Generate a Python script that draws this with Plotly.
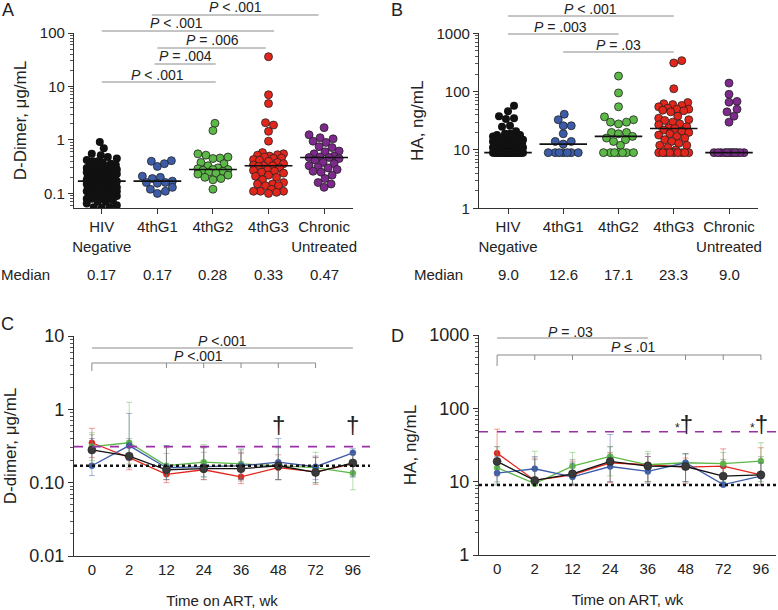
import math

import plotly.graph_objects as go

W, H = 778, 610
FONT = "Liberation Sans, Arial, sans-serif"

groups = ["HIV<br>Negative", "4thG1", "4thG2", "4thG3", "Chronic<br>Untreated"]
group_colors = ["#111111", "#3d5ca8", "#5cb847", "#e3261c", "#7d2a8c"]

# panel A: D-dimer, ug/mL
ddimer_hivneg = [
    0.92, 0.70, 0.55, 0.52, 0.48, 0.45, 0.42, 0.40, 0.40, 0.38,
    0.36, 0.35, 0.34, 0.33, 0.32, 0.31, 0.30, 0.30, 0.29, 0.28,
    0.27, 0.27, 0.26, 0.25, 0.25, 0.24, 0.24, 0.23, 0.23, 0.22,
    0.22, 0.21, 0.21, 0.20, 0.20, 0.20, 0.19, 0.19, 0.19, 0.18,
    0.18, 0.18, 0.18, 0.17, 0.17, 0.17, 0.17, 0.17, 0.16, 0.16,
    0.16, 0.16, 0.15, 0.15, 0.15, 0.15, 0.14, 0.14, 0.14, 0.14,
    0.13, 0.13, 0.13, 0.13, 0.12, 0.12, 0.12, 0.12, 0.11, 0.11,
    0.11, 0.11, 0.10, 0.10, 0.10, 0.10, 0.095, 0.09, 0.09, 0.09,
    0.085, 0.08, 0.08, 0.08, 0.075, 0.07, 0.07, 0.065, 0.06, 0.055,
    0.055, 0.054,
]
ddimer_g1 = [0.40, 0.41, 0.32, 0.36, 0.20, 0.17, 0.19, 0.21, 0.16, 0.16,
             0.155, 0.12, 0.11, 0.10, 0.13]
ddimer_g2 = [2.05, 1.5, 0.55, 0.52, 0.48, 0.46, 0.45, 0.38, 0.36, 0.33,
             0.30, 0.29, 0.28, 0.28, 0.27, 0.26, 0.25, 0.24, 0.23, 0.22,
             0.20, 0.19, 0.18, 0.12]
ddimer_g3 = [36, 7.0, 4.8, 2.1, 1.9, 1.45, 0.95, 0.58, 0.55, 0.53,
             0.52, 0.50, 0.48, 0.46, 0.45, 0.43, 0.42, 0.40, 0.38, 0.36,
             0.34, 0.33, 0.33, 0.32, 0.30, 0.28, 0.27, 0.26, 0.25, 0.24,
             0.22, 0.21, 0.20, 0.18, 0.16, 0.15, 0.15, 0.14, 0.14, 0.12,
             0.11, 0.11, 0.10, 0.11, 0.105]
ddimer_chronic = [1.7, 1.25, 1.1, 1.05, 0.95, 0.9, 0.75, 0.72, 0.62, 0.6,
                  0.55, 0.5, 0.48, 0.47, 0.47, 0.45, 0.42, 0.38, 0.36, 0.33,
                  0.31, 0.30, 0.28, 0.26, 0.25, 0.22, 0.19, 0.16, 0.15, 0.13]
ddimer_medians = [0.17, 0.17, 0.28, 0.33, 0.47]

# panel B: HA, ng/mL
ha_hivneg = [
    57, 46, 38, 35, 34, 26, 25, 21, 19, 19,
    18, 18, 17, 17, 16, 16, 15, 15, 15, 14,
    14, 14, 13, 13, 13, 12, 12, 12, 12, 11,
    11, 11, 11, 10.5, 10.5, 10, 10, 10, 10, 9.5,
    9.5, 9.0, 9.0, 9.0, 9.0, 9.0, 9.0, 9.0, 9.0, 9.0,
    9.0, 9.0, 9.0, 9.0, 9.0, 9.0, 9.0, 9.0, 9.0, 9.0,
    9.0, 9.0, 9.0, 9.0, 9.0, 9.0, 9.0, 9.0, 9.0, 9.0,
    9.0, 9.0, 9.0, 9.0, 9.0, 9.0, 9.0, 9.0, 9.0, 9.0,
    9.0, 9.0, 9.0, 9.0, 9.0, 9.0, 9.0, 9.0, 9.0, 9.0,
]
ha_g1 = [41, 33, 26, 26, 19, 14, 14, 12.6, 9.0, 9.0, 9.0, 9.0, 9.0, 9.0, 9.0]
ha_g2 = [185, 95, 55, 37, 33, 30, 30, 28, 20, 20, 19, 17.1, 16, 15, 14, 12,
         9.0, 9.0, 9.0, 9.0, 9.0, 9.0, 9.0]
ha_g3 = [340, 310, 112, 65, 62, 60, 58, 55, 52, 50, 50, 48, 47, 45,
         38, 35, 33, 32, 30, 28, 27, 25, 24, 23.3, 22, 21, 20, 19, 18, 17,
         16, 15, 14, 13, 12, 12, 11, 10,
         9.0, 9.0, 9.0, 9.0, 9.0, 9.0, 9.0, 9.0, 9.0]
ha_chronic = [140, 90, 68, 66, 50, 45, 38, 30,
              9.0, 9.0, 9.0, 9.0, 9.0, 9.0, 9.0, 9.0, 9.0, 9.0, 9.0, 9.0]
ha_medians = [9.0, 12.6, 17.1, 23.3, 9.0]

# panels C and D: longitudinal, by group (red=4thG3, green=4thG2, blue=4thG1, black=all)
weeks = ["0", "2", "12", "24", "36", "48", "72", "96"]
series_names = ["4thG3", "4thG2", "4thG1", "All"]
series_colors = ["#e3261c", "#5cb847", "#3d5ca8", "#111111"]

dd_mean = [
    [0.35, 0.22, 0.13, 0.15, 0.12, 0.16, 0.14, 0.18],
    [0.31, 0.35, 0.17, 0.19, 0.18, 0.17, 0.16, 0.135],
    [0.17, 0.32, 0.16, 0.165, 0.17, 0.19, 0.165, 0.255],
    [0.28, 0.23, 0.15, 0.155, 0.155, 0.17, 0.138, 0.186],
]
dd_hi = [
    [0.55, 0.30, 0.30, 0.30, 0.26, 0.24, 0.22, 0.25],
    [0.48, 1.25, 0.32, 0.33, 0.29, 0.30, 0.26, 0.20],
    [0.40, 0.88, 0.32, 0.30, 0.28, 0.40, 0.23, 0.29],
    [0.45, 0.40, 0.25, 0.26, 0.25, 0.30, 0.22, 0.25],
]
dd_lo = [
    [0.22, 0.15, 0.10, 0.11, 0.097, 0.11, 0.095, 0.13],
    [0.20, 0.18, 0.11, 0.12, 0.11, 0.11, 0.10, 0.08],
    [0.125, 0.20, 0.11, 0.12, 0.11, 0.11, 0.11, 0.12],
    [0.18, 0.16, 0.11, 0.11, 0.105, 0.11, 0.10, 0.12],
]
dd_hivneg_ref = 0.17
dd_chronic_ref = 0.31

ha_mean = [
    [24.5, 10.4, 12.4, 18.1, 17.0, 15.8, 16.3, 12.4],
    [15.5, 9.4, 16.3, 22.1, 17.0, 18.1, 17.6, 19.1],
    [13.1, 15.0, 11.6, 16.1, 13.8, 18.1, 9.1, 11.9],
    [18.9, 10.4, 12.8, 18.9, 16.3, 16.1, 11.9, 12.4],
]
ha_hi = [
    [52, 21, 19, 25, 22, 21, 28, 29],
    [30, 26, 25, 30, 26, 24, 25, 34],
    [22, 22, 18, 44, 22, 24, 16, 18],
    [30, 20, 20, 30, 24, 24, 20, 22],
]
ha_lo = [
    [12, 9.0, 9.0, 9.7, 10, 9.5, 9.5, 9.0],
    [9.5, 9.0, 9.5, 12, 10, 10, 10, 10],
    [9.0, 9.5, 9.0, 10, 9.5, 10, 9.0, 9.0],
    [10, 9.0, 9.0, 10, 10, 10, 9.0, 9.0],
]
ha_hivneg_ref = 9.0
ha_chronic_ref = 48


def px(x):
    return x / W


def py(y):
    return (H - y) / H


def swarm(vals, px_dec, px_cat, d=7.5, half=15):
    # simple beeswarm: offsets in category units, overlap allowed past `half`
    order = sorted(range(len(vals)), key=lambda i: vals[i])
    cands = [0]
    for k in range(1, half + 1):
        cands += [k, -k]
    placed = []
    out = [0.0] * len(vals)
    for i in order:
        y = math.log10(vals[i]) * px_dec
        best, best_d = 0, -1
        for c in cands:
            md = min([math.hypot(c - px_, y - py_) for px_, py_ in placed
                      if abs(y - py_) < d] or [99])
            if md >= d:
                best = c
                break
            if md > best_d:
                best, best_d = c, md
        placed.append((best, y))
        out[i] = best / px_cat
    return out


def rgba(hex_color, a):
    h = hex_color.lstrip("#")
    return "rgba(%d,%d,%d,%s)" % (int(h[0:2], 16), int(h[2:4], 16), int(h[4:6], 16), a)


fig = go.Figure()

# ---- A and B: dot plots
panels_ab = [
    ("x", "y", [ddimer_hivneg, ddimer_g1, ddimer_g2, ddimer_g3, ddimer_chronic],
     ddimer_medians, 53.5, 55.5),
    ("x2", "y2", [ha_hivneg, ha_g1, ha_g2, ha_g3, ha_chronic],
     ha_medians, 58.3, 55.2),
]
for xa, ya, data, medians, px_dec, px_cat in panels_ab:
    for i, vals in enumerate(data):
        offs = swarm(vals, px_dec, px_cat)
        black = i == 0
        fig.add_trace(go.Scatter(
            x=[i + o for o in offs], y=vals, xaxis=xa, yaxis=ya, mode="markers",
            marker=dict(size=8, color=group_colors[i],
                        line=dict(width=0 if black else 0.8, color="#222")),
            showlegend=False, hoverinfo="y"))
    for i, m in enumerate(medians):
        fig.add_trace(go.Scatter(
            x=[i - 0.43, i + 0.43], y=[m, m], xaxis=xa, yaxis=ya, mode="lines",
            line=dict(color="#111", width=1.6), showlegend=False, hoverinfo="skip"))

# ---- C and D: lines with error bars
panels_cd = [("x3", "y3", dd_mean, dd_hi, dd_lo), ("x4", "y4", ha_mean, ha_hi, ha_lo)]
for xa, ya, means, his, los in panels_cd:
    for s in range(len(series_names)):
        black = s == 3
        col = series_colors[s]
        fig.add_trace(go.Scatter(
            x=list(range(len(weeks))), y=means[s], xaxis=xa, yaxis=ya,
            mode="lines+markers", name=series_names[s],
            line=dict(color=col, width=1.3),
            marker=dict(size=8 if black else 6, color="#3a3a3a" if black else col,
                        line=dict(width=0.6, color="#222" if black else col)),
            error_y=dict(type="data", symmetric=False,
                         array=[h - m for h, m in zip(his[s], means[s])],
                         arrayminus=[m - l for l, m in zip(los[s], means[s])],
                         color=rgba("#777777" if black else col, 0.45),
                         thickness=1, width=3),
            showlegend=False))

# ---- reference lines in C and D
refs = [("x3", "y3", dd_hivneg_ref, dd_chronic_ref), ("x4", "y4", ha_hivneg_ref, ha_chronic_ref)]
for xa, ya, neg, chron in refs:
    fig.add_shape(type="line", xref=xa + " domain", yref=ya, x0=0, x1=1,
                  y0=chron, y1=chron, line=dict(color="#9b2fa6", width=1.6, dash="dash"))
    fig.add_shape(type="line", xref=xa + " domain", yref=ya, x0=0, x1=1,
                  y0=neg, y1=neg, line=dict(color="#111", width=2.4, dash="dot"))

# ---- comparison brackets
GRAY = "#8a8a8a"
ann = []


def ptext(x, y, text, xref="paper", size=14):
    ann.append(dict(x=x, y=py(y), xref=xref, yref="paper", text=text, showarrow=False,
                    xanchor="center", yanchor="middle",
                    font=dict(family=FONT, size=size, color="#222")))


def hline(xref, x0, x1, y, width=1):
    fig.add_shape(type="line", xref=xref, yref="paper", x0=x0, x1=x1,
                  y0=py(y), y1=py(y), line=dict(color=GRAY, width=width))


# A: (from group, to group, label, line y px)
comp_a = [(0.9, 3.9, "<i>P</i> < .001", 15), (0, 3.1, "<i>P</i> < .001", 31),
          (1, 2.95, "<i>P</i> = .006", 48), (0.95, 2.05, "<i>P</i> = .004", 64),
          (0, 2.05, "<i>P</i> < .001", 82)]
text_a = [2.4, 1.35, 2.0, 1.5, 1.0]
for (g0, g1, lab, y), tx in zip(comp_a, text_a):
    hline("x", g0, g1, y)
    ptext(tx, y - 7.5, lab, xref="x")

comp_b = [(0, 3, "<i>P</i> < .001", 16), (0, 2, "<i>P</i> = .003", 34),
          (1, 3, "<i>P</i> = .03", 52)]
text_b = [1.5, 0.95, 2.0]
for (g0, g1, lab, y), tx in zip(comp_b, text_b):
    hline("x2", g0, g1, y)
    ptext(tx, y - 7, lab, xref="x2")

# C brackets
hline("x3", 0, 7, 348)
hline("x3", 0, 6, 363)
for k in [0, 2, 3, 4, 5, 6]:
    fig.add_shape(type="line", xref="x3", yref="paper", x0=k, x1=k,
                  y0=py(363), y1=py(371 if k == 0 else 368), line=dict(color=GRAY, width=1))
ptext(3.5, 341, "<i>P</i> <.001", xref="x3")
ptext(2.85, 356, "<i>P</i> <.001", xref="x3")

# D brackets
hline("x4", 0, 4, 338)
hline("x4", 0, 7, 355)
for k in [0, 1, 2, 5, 6, 7]:
    fig.add_shape(type="line", xref="x4", yref="paper", x0=k, x1=k,
                  y0=py(355), y1=py(366 if k == 0 else 360), line=dict(color=GRAY, width=1))
ptext(1.95, 332, "<i>P</i> = .03", xref="x4")
ptext(3.6, 347, "<i>P</i> ≤ .01", xref="x4")

# daggers
for k in [5, 7]:
    ptext(k, 424, "†", xref="x3", size=24)
    ptext(k - 0.05, 423, "<span style='font-size:12px'>*</span>†", xref="x4", size=24)

# median rows
ptext(px(25), 275, "Median", size=15)
ptext(px(438), 275, "Median", size=15)
for i in range(len(groups)):
    ptext(i, 275, "%.2f" % ddimer_medians[i], xref="x", size=15)
    ptext(i, 275, "%.1f" % ha_medians[i], xref="x2", size=15)

# panel letters
for lab, x, y in [("A", 8, 10), ("B", 397, 10), ("C", 8, 324), ("D", 397, 336)]:
    ptext(px(x), y, lab, size=18)

axis_common = dict(showline=True, linecolor="#333", linewidth=1.2, showgrid=False,
                   zeroline=False, automargin=False, tickcolor="#333",
                   tickfont=dict(family=FONT, size=15, color="#222"))
minor = dict(ticks="outside", ticklen=3, tickcolor="#555", dtick="D1", showgrid=False)


def logy(domain, rng, vals, texts, title, size=14, stand=8):
    return dict(axis_common, type="log", domain=domain, range=rng, tickmode="array",
                tickvals=vals, ticktext=texts, ticks="outside", ticklen=5, minor=minor,
                tickfont=dict(family=FONT, size=size, color="#222"),
                title=dict(text=title, font=dict(family=FONT, size=17, color="#222"),
                           standoff=stand))


def catx(domain, rng, labels, anchor, ticks, title=None):
    d = dict(axis_common, domain=domain, range=rng, anchor=anchor, tickmode="array",
             tickvals=list(range(len(labels))), ticktext=labels, ticks=ticks, ticklen=5,
             tickangle=0)
    if title:
        d["title"] = dict(text=title, font=dict(family=FONT, size=15, color="#222"),
                          standoff=18)
    return d


fig.update_layout(
    width=W, height=H, margin=dict(l=0, r=0, t=0, b=0),
    paper_bgcolor="white", plot_bgcolor="white",
    font=dict(family=FONT, color="#222"),
    xaxis=catx([px(74), px(353)], [-0.5, 4.52], groups, "y", "outside"),
    yaxis=logy([py(208), py(33)], [-1.272, 2], [0.1, 1, 10, 100],
               ["0.1", "1", "10", "100"], "D-Dimer, μg/mL", size=15),
    xaxis2=catx([px(479), px(758)], [-0.525, 4.525], groups, "y2", "outside"),
    yaxis2=logy([py(208.3), py(33.3)], [0, 3], [1, 10, 100, 1000],
                ["1", "10", "100", "1000"], "HA, ng/mL", size=15),
    xaxis3=catx([px(74), px(370)], [-0.48, 7.46], weeks, "y3", "",
                "Time on ART, wk"),
    yaxis3=logy([py(556), py(336)], [-2, 1], [0.01, 0.1, 1, 10],
                ["0.01", "0.10", "1", "10"], "D-dimer, μg/mL", size=18),
    xaxis4=catx([px(479), px(776)], [-0.48, 7.4], weeks, "y4", "",
                "Time on ART, wk"),
    yaxis4=logy([py(555), py(335)], [0, 3], [1, 10, 100, 1000],
                ["1", "10", "100", "1000"], "HA, ng/mL", size=18),
    annotations=ann,
)
for a in ["yaxis", "yaxis2", "yaxis3", "yaxis4"]:
    fig.layout[a].anchor = "x" + a[5:]

fig.write_html("out.html", config={"displayModeBar": False},
               post_script="document.body.style.margin='0';"
                           "document.body.style.overflow='hidden';")
